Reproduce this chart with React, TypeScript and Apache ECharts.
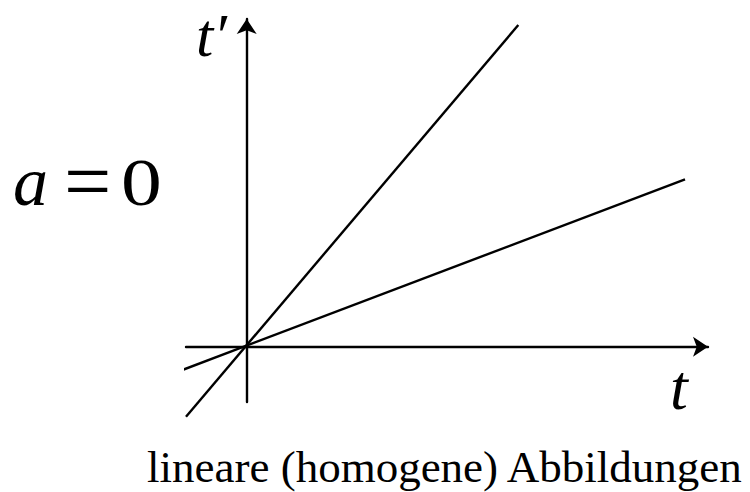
import React, { useEffect, useRef } from "react";
import * as echarts from "echarts";

// Axis extents (units of the drawing, origin at the crossing of the axes)
const xRange = [-0.607, 4.613];
const yRange = [-0.553, 3.277];
// Steep line (slope ≈ 1.17) endpoints
const steepLine = [
  [-0.607, -0.7],
  [2.716, 3.217],
];
// Shallow line (slope ≈ 0.375) endpoints
const shallowLine = [
  [-0.767, -0.28],
  [4.383, 1.674],
];
const yName = "t′";
const xName = "t";
const paramName = "a";
const paramEq = "=";
const paramValue = "0";
const caption = "lineare (homogene) Abbildungen";

const SERIF = "Liberation Serif, Times New Roman, serif";
// top of a top-aligned text whose alphabetic baseline is at `baseline`
const topFor = (baseline: number, fs: number) => baseline - 0.8375 * fs;

export default function App() {
  const ref = useRef<HTMLDivElement>(null);
  useEffect(() => {
    if (!ref.current) return;
    const chart = echarts.init(ref.current, null, { renderer: "svg" });
    const axisCommon = {
      type: "value" as const,
      axisTick: { show: false },
      axisLabel: { show: false },
      splitLine: { show: false },
    };
    const lw = 2.4;
    const txt = (
      text: string,
      x: number,
      baseline: number,
      fs: number,
      italic: boolean,
      scaleX = 1
    ) => ({
      type: "text",
      x,
      y: topFor(baseline, fs),
      scaleX,
      style: {
        x: 0,
        y: 0,
        text,
        font: `${italic ? "italic " : ""}${fs}px ${SERIF}`,
        fill: "#000",
        textAlign: "left",
        textVerticalAlign: "top",
        align: "left",
        verticalAlign: "top",
      },
    });
    chart.setOption({
      animation: false,
      backgroundColor: "#ffffff",
      textStyle: { fontFamily: SERIF },
      grid: { left: 186, right: 42, top: 19, bottom: 90 },
      xAxis: {
        ...axisCommon,
        min: xRange[0],
        max: xRange[1],
        axisLine: {
          show: true,
          onZero: true,
          symbol: ["none", "arrow"],
          symbolSize: [15, 15],
          lineStyle: { color: "#000", width: lw },
        },
      },
      yAxis: {
        ...axisCommon,
        min: yRange[0],
        max: yRange[1],
        axisLine: {
          show: true,
          onZero: true,
          symbol: ["none", "arrow"],
          symbolSize: [15, 15],
          lineStyle: { color: "#000", width: lw },
        },
      },
      series: [
        {
          type: "line",
          data: steepLine,
          showSymbol: false,
          symbol: "none",
          clip: false,
          lineStyle: { color: "#000", width: lw },
        },
        {
          type: "line",
          data: shallowLine,
          showSymbol: false,
          symbol: "none",
          clip: false,
          lineStyle: { color: "#000", width: lw },
        },
      ],
      graphic: [
        txt(yName, 196, 56, 62, true),
        txt(xName, 670, 409, 64, true),
        txt(paramName, 13, 205, 70, true),
        txt(paramEq, 64, 210, 84, false),
        txt(paramValue, 121, 205, 68, false, 1.2),
        txt(caption, 147, 482, 45, false),
      ],
    });
    return () => chart.dispose();
  }, []);
  return (
    <div
      ref={ref}
      style={{ position: "fixed", left: 0, top: 0, width: 750, height: 492 }}
    />
  );
}
